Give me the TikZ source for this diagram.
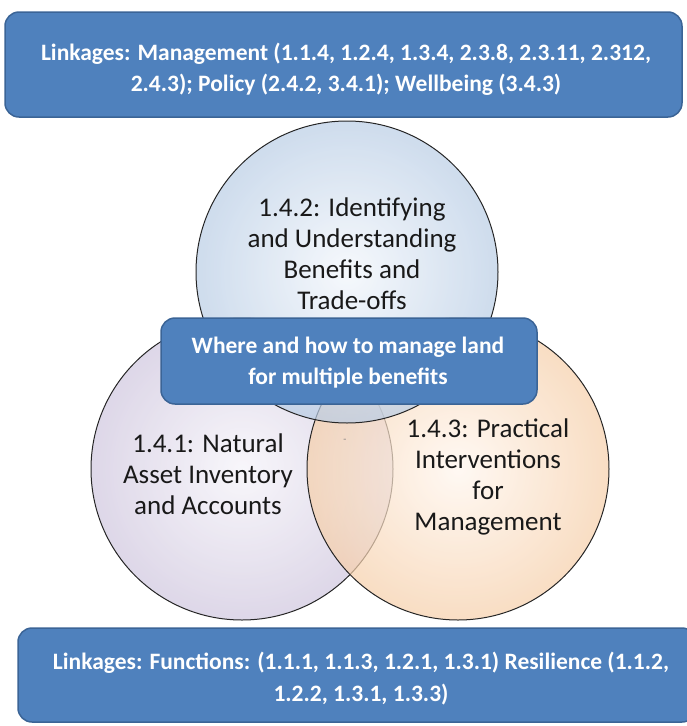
\documentclass[tikz,border=0pt]{standalone}
\usepackage{fontspec}
\setmainfont{Carlito}
\usetikzlibrary{positioning}

\definecolor{boxblue}{HTML}{4F81BD}
\definecolor{boxedge}{HTML}{3B6496}
\definecolor{topin}{HTML}{F2F6FB}
\definecolor{topout}{HTML}{B9CDE5}
\definecolor{leftin}{HTML}{F5F3F9}
\definecolor{leftout}{HTML}{CFC6DE}
\definecolor{rightin}{HTML}{FFF6EE}
\definecolor{rightout}{HTML}{F6CFAA}

\tikzset{
  linkbox/.style={rectangle, rounded corners=14pt, fill=boxblue, draw=boxedge, line width=1.5pt, inner sep=0pt},
  linktext/.style={text=white, align=center, inner sep=0pt, font=\bfseries\fontsize{23.5}{31}\selectfont},
  bubble/.style={circle, draw=black!85, line width=1pt, minimum size=302pt, inner sep=0pt,
    fill opacity=0.7, draw opacity=1},
  bubbletext/.style={align=center, text=black!90, font=\fontsize{27}{31}\selectfont}
}

\begin{document}
\begin{tikzpicture}[x=1pt,y=-1pt]
\useasboundingbox (0,0) rectangle (687,726);

% the three areas
\node[bubble, inner color=leftin, outer color=leftout] (c141) at (242,469) {};
\node[bubble, inner color=rightin, outer color=rightout] (c143) at (458,469) {};
\node[bubble, inner color=topin, outer color=topout] (c142) at (347,272) {};

\node[bubbletext] (t142) at (352,254) {1.4.2: Identifying\\and Understanding\\Benefits and\\Trade-offs};
\node[bubbletext] (t141) at (208,474) {1.4.1: Natural\\Asset Inventory\\and Accounts};
\node[bubbletext] (t143) at (488,477) {1.4.3: Practical\\Interventions\\for\\Management};
\node[text=black!50, font=\fontsize{10}{10}\selectfont] (dash) at (345,441) {-};

% linkage boxes
\node[linkbox, minimum width=677pt, minimum height=105pt] (top) at (343.5,64.5) {};
\node[linktext] (toptext) at (346,69)
  {Linkages: Management (1.1.4, 1.2.4, 1.3.4, 2.3.8, 2.3.11, 2.312,\\2.4.3); Policy (2.4.2, 3.4.1); Wellbeing (3.4.3)};
\node[linkbox, minimum width=376pt, minimum height=86pt] (mid) at (349,361) {};
\node[linktext] (midtext) at (348,363) {Where and how to manage land\\for multiple benefits};
\node[linkbox, minimum width=678pt, minimum height=94pt] (bottom) at (357,675) {};
\node[linktext, font=\bfseries\fontsize{23.5}{32}\selectfont] (bottomtext) at (361,679)
  {Linkages: Functions: (1.1.1, 1.1.3, 1.2.1, 1.3.1) Resilience (1.1.2,\\1.2.2, 1.3.1, 1.3.3)};
\end{tikzpicture}
\end{document}
